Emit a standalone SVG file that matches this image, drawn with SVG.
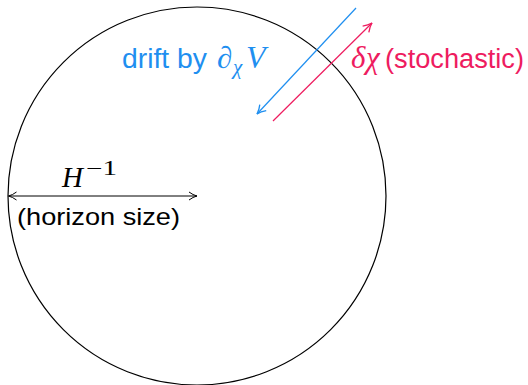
<svg xmlns="http://www.w3.org/2000/svg" width="528" height="385" viewBox="0 0 528 385">
<style>
.sans{font-family:"Liberation Sans","DejaVu Sans",sans-serif}
.math{font-family:"Liberation Serif","DejaVu Serif",serif;font-style:italic}
.up{font-style:normal}
.blue{fill:#1f8ff0}
.red{fill:#ee1c5f}
</style>
<defs>
<marker id="ab2" viewBox="0 0 10 10" refX="9" refY="5" markerWidth="10" markerHeight="10" markerUnits="userSpaceOnUse" orient="auto-start-reverse">
<path d="M1,1 Q5,4 9,5 Q5,6 1,9" fill="none" stroke="#000" stroke-width="1"/>
</marker>
<marker id="abb" viewBox="0 0 10 10" refX="9" refY="5" markerWidth="11" markerHeight="11" markerUnits="userSpaceOnUse" orient="auto">
<path d="M1,1 Q5,4 9,5 Q5,6 1,9" fill="none" stroke="#1f8ff0" stroke-width="1.2"/>
</marker>
<marker id="abr" viewBox="0 0 10 10" refX="9" refY="5" markerWidth="11" markerHeight="11" markerUnits="userSpaceOnUse" orient="auto">
<path d="M1,1 Q5,4 9,5 Q5,6 1,9" fill="none" stroke="#ee1c5f" stroke-width="1.2"/>
</marker>
</defs>
<g id="horizon">
<circle cx="197" cy="196" r="189" fill="none" stroke="#000" stroke-width="1.2"/>
</g>
<g id="connectors">
<line x1="8.5" y1="196" x2="197" y2="196" stroke="#000" stroke-width="1" marker-start="url(#ab2)" marker-end="url(#ab2)"/>
<line x1="356" y1="8" x2="257" y2="114" stroke="#1f8ff0" stroke-width="1.2" marker-end="url(#abb)"/>
<line x1="273" y1="121" x2="372" y2="23" stroke="#ee1c5f" stroke-width="1.2" marker-end="url(#abr)"/>
</g>
<g id="labels">
<text x="62" y="187" class="math" font-size="29">H</text>
<text x="86" y="175" class="math up" font-size="20" textLength="31" lengthAdjust="spacingAndGlyphs">−1</text>
<text x="17" y="225" class="sans" font-size="24" textLength="163" lengthAdjust="spacingAndGlyphs">(horizon size)</text>
<text x="122" y="68" class="sans blue" font-size="27" textLength="85" lengthAdjust="spacingAndGlyphs">drift by</text>
<text x="217" y="68" class="math blue" font-size="31">∂</text>
<text x="233" y="74" class="math blue" font-size="21">χ</text>
<text x="246" y="68" class="math blue" font-size="32">V</text>
<text x="351" y="68" class="math red" font-size="31">δ</text>
<text x="366" y="68" class="math red" font-size="31">χ</text>
<text x="385" y="68" class="sans red" font-size="27" textLength="139" lengthAdjust="spacingAndGlyphs">(stochastic)</text>
</g>
</svg>
